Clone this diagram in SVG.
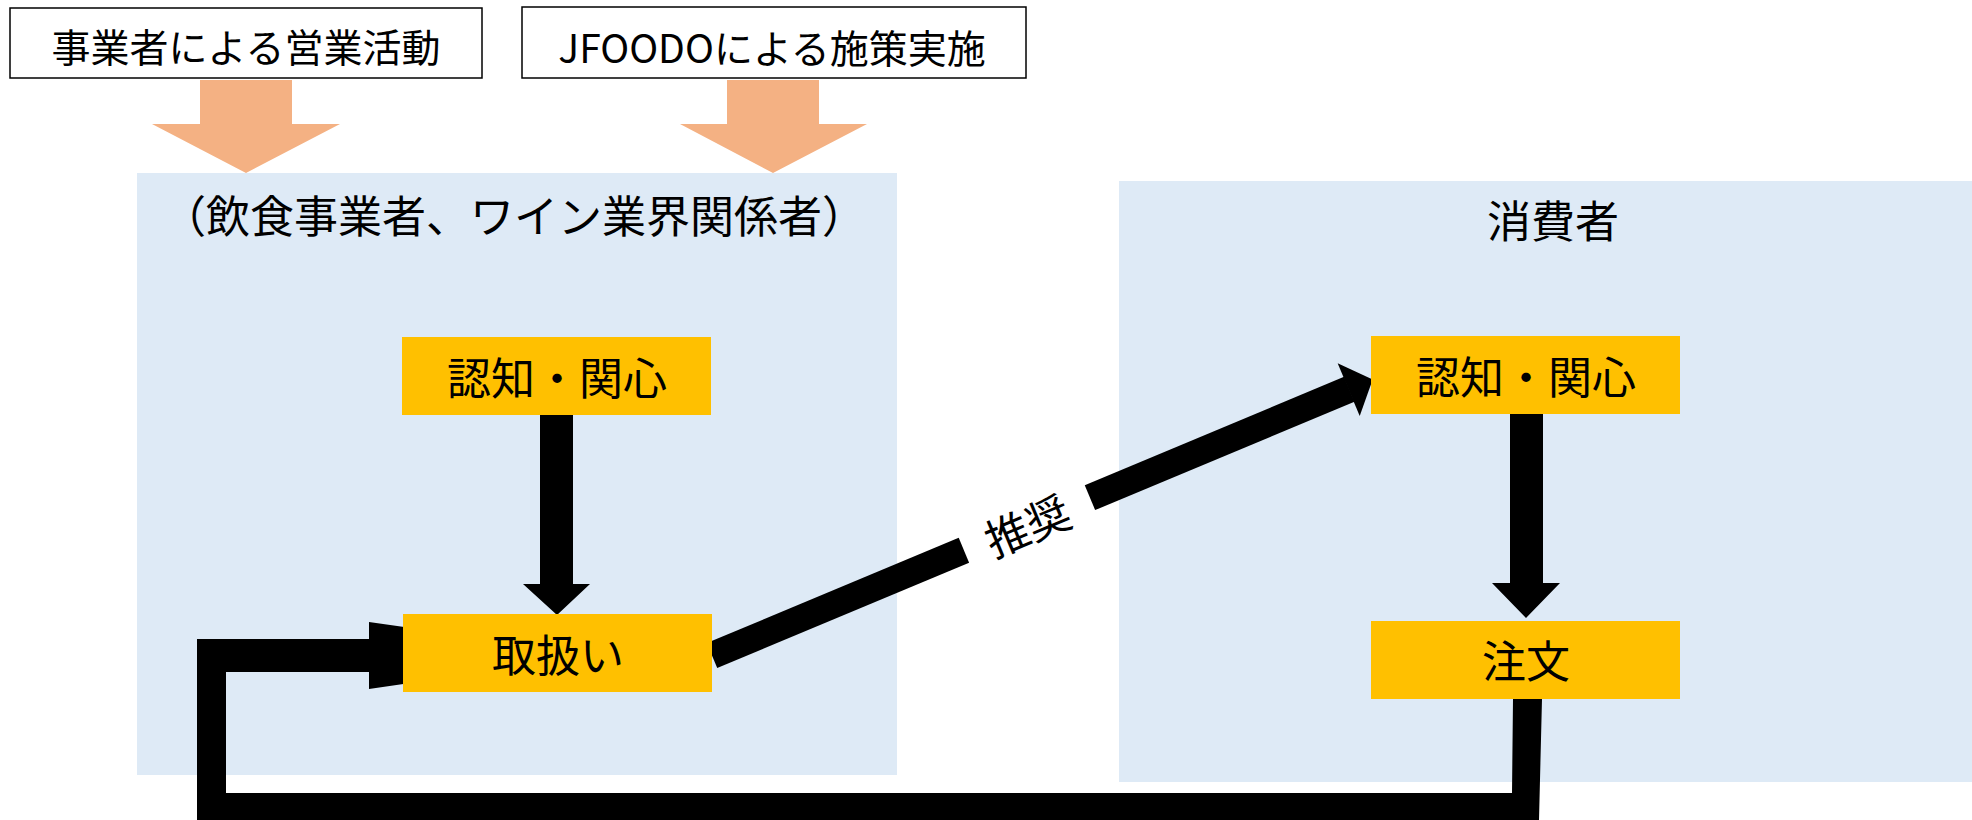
<svg xmlns="http://www.w3.org/2000/svg" width="1972" height="820" viewBox="0 0 1972 820">
<style>
text{font-family:"Noto Sans CJK JP","Noto Sans",sans-serif;fill:#000;text-anchor:middle;dominant-baseline:central}
.panel{fill:#DEEAF6}
.box{fill:#FFC000}
.src{fill:#fff;stroke:#000;stroke-width:1.5}
.orange{fill:#F4B183}
.blk{fill:#000}
.t44{font-size:44px}
.t39{font-size:39px}
</style>
<rect width="1972" height="820" fill="#fff"/>
<g id="panel-business">
<rect class="panel" x="137" y="173" width="760" height="602"/>
<text class="t44" x="514" y="214">（飲食事業者、ワイン業界関係者）</text>
</g>
<g id="panel-consumer">
<rect class="panel" x="1119" y="181" width="853" height="601"/>
<text class="t44" x="1553" y="219">消費者</text>
</g>
<g id="src-sales">
<rect class="src" x="10" y="8" width="472" height="70"/>
<text class="t39" x="246" y="45">事業者による営業活動</text>
</g>
<g id="src-jfoodo">
<rect class="src" x="522" y="7" width="504" height="71"/>
<text class="t39" x="772" y="46">JFOODOによる施策実施</text>
</g>
<g id="connectors">
<polygon class="orange" points="200,80 292,80 292,124 340,124 246,173 152,124 200,124"/>
<polygon class="orange" points="727,80 819,80 819,124 867,124 773,173 680,124 727,124"/>
<polygon class="blk" points="540,413 573,413 573,584 590,584 557,615 523,584 540,584"/>
<polygon class="blk" points="1510,414 1543,414 1543,583 1560,583 1526,618 1492,583 1510,583"/>
<g transform="translate(712,655.5) rotate(-22.67)">
<rect class="blk" x="0" y="-13.5" width="273" height="27"/>
<rect class="blk" x="409.6" y="-13.5" width="281" height="27"/>
<polygon class="blk" points="690,-28.6 716,0 690,28.6"/>
<text class="t44" x="341" y="0">推奨</text>
</g>
<polygon class="blk" points="1542,699 1539,820 197,820 197,639 369,639 369,622 602,655 369,689 369,672 226,672 226,793 1512,793 1513,699"/>
</g>
<g id="node-aware-b">
<rect class="box" x="402" y="337" width="309" height="78"/>
<text class="t44" x="557" y="376">認知・関心</text>
</g>
<g id="node-handle">
<rect class="box" x="403" y="614" width="309" height="78"/>
<text class="t44" x="558" y="653">取扱い</text>
</g>
<g id="node-aware-c">
<rect class="box" x="1371" y="336" width="309" height="78"/>
<text class="t44" x="1526" y="375">認知・関心</text>
</g>
<g id="node-order">
<rect class="box" x="1371" y="621" width="309" height="78"/>
<text class="t44" x="1526" y="659">注文</text>
</g>
</svg>
